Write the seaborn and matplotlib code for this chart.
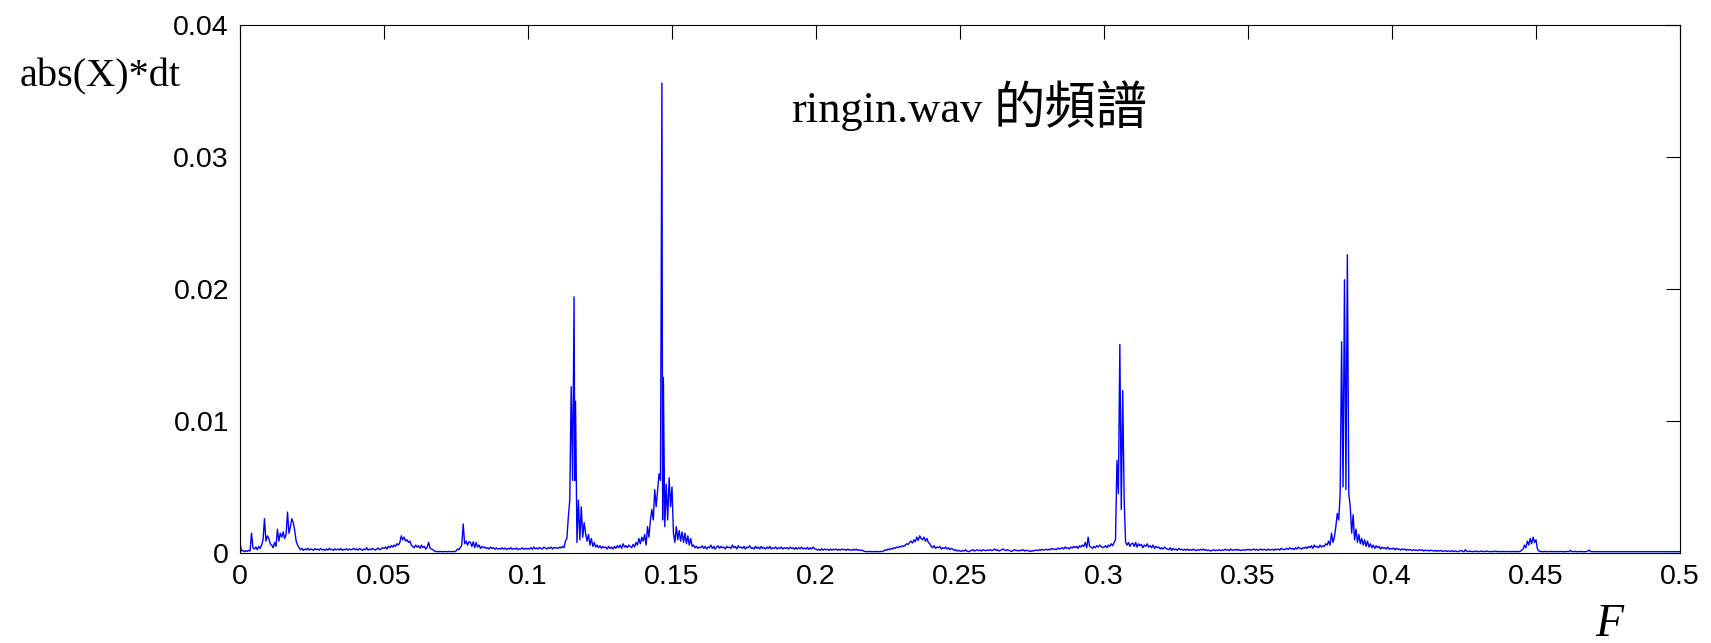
import numpy as np
import pandas as pd
import matplotlib
matplotlib.use("Agg")
import matplotlib.pyplot as plt
import seaborn as sns

# ---------------- data (amplitudes in units of 1e-5, frequency grid step 0.0005) ----------------
freq_step = 0.0005

amp_000_100 = [
    80, 15, 20, 10, 18, 12, 20, 15, 150, 40, 30, 45, 25, 50, 35, 60, 100, 260, 90, 130,
    110, 70, 60, 40, 80, 50, 180, 90, 150, 120, 160, 110, 140, 310, 150, 200, 260, 230, 170, 90,
    60, 40, 25, 35, 20, 30, 25, 35, 22, 30, 28, 20, 33, 25, 30, 22, 35, 24, 28, 20,
    30, 22, 35, 25, 28, 20, 32, 24, 30, 22, 35, 20, 28, 25, 33, 22, 30, 24, 28, 35,
    25, 30, 22, 35, 28, 20, 30, 25, 40, 22, 30, 25, 35, 28, 22, 30, 38, 25, 30, 40,
    35, 45, 30, 50, 40, 55, 45, 60, 50, 70, 60, 80, 130, 100, 120, 90, 100, 80, 90, 60,
    50, 40, 60, 45, 55, 35, 60, 40, 50, 30, 45, 80, 35, 30, 25, 15, 12, 10, 10, 12,
    10, 10, 12, 10, 10, 12, 10, 10, 12, 10, 15, 30, 25, 40, 60, 220, 70, 90, 60, 85,
    80, 50, 85, 40, 80, 45, 60, 35, 50, 40, 45, 35, 40, 30, 45, 35, 40, 28, 38, 30,
    35, 28, 40, 30, 38, 25, 35, 30, 40, 28, 35, 30, 38, 25, 32, 30, 40, 28, 35, 30,
]
amp_100_200 = [
    35, 30, 40, 28, 45, 32, 38, 30, 42, 35, 30, 45, 38, 30, 40, 35, 45, 30, 42, 38,
    40, 35, 45, 38, 50, 40, 90, 110, 270, 400, 1260, 550, 1940, 1150, 80, 400, 100, 350, 120, 230,
    150, 90, 140, 60, 110, 50, 80, 45, 60, 40, 55, 35, 50, 40, 45, 30, 50, 35, 45, 30,
    50, 35, 55, 40, 60, 35, 70, 45, 55, 40, 60, 50, 40, 65, 45, 80, 60, 110, 70, 120,
    90, 140, 60, 200, 120, 250, 330, 250, 480, 350, 480, 600, 550, 3560, 1330, 200, 520, 250, 570, 350,
    500, 150, 80, 200, 100, 170, 90, 160, 80, 150, 70, 130, 60, 110, 50, 60, 40, 50, 35, 45,
    40, 55, 35, 50, 30, 45, 40, 60, 35, 50, 30, 45, 55, 35, 50, 40, 45, 30, 50, 40,
    45, 35, 60, 40, 50, 30, 55, 40, 45, 35, 50, 30, 45, 40, 55, 35, 40, 30, 50, 35,
    45, 30, 50, 35, 40, 30, 45, 35, 50, 30, 40, 35, 45, 30, 40, 35, 45, 30, 40, 35,
    40, 30, 45, 35, 40, 28, 42, 30, 40, 32, 45, 30, 38, 30, 42, 28, 40, 30, 45, 32,
]
amp_200_300 = [
    30, 22, 28, 20, 32, 22, 30, 25, 28, 20, 30, 22, 28, 25, 30, 20, 28, 22, 30, 25,
    28, 20, 30, 22, 25, 20, 28, 22, 30, 20, 25, 18, 22, 15, 12, 10, 10, 12, 10, 10,
    10, 10, 12, 10, 10, 12, 10, 15, 25, 20, 30, 25, 35, 30, 40, 35, 45, 40, 50, 45,
    55, 50, 60, 70, 65, 80, 90, 75, 100, 85, 120, 95, 130, 110, 100, 120, 90, 110, 80, 70,
    50, 40, 55, 35, 45, 40, 50, 30, 40, 35, 45, 30, 40, 25, 35, 30, 20, 25, 15, 20,
    15, 12, 20, 15, 25, 12, 10, 15, 20, 25, 15, 20, 25, 18, 22, 15, 25, 20, 18, 22,
    20, 25, 18, 22, 30, 20, 25, 15, 20, 25, 30, 22, 18, 25, 20, 15, 12, 20, 25, 18,
    20, 15, 22, 18, 25, 15, 20, 18, 15, 12, 18, 15, 20, 22, 18, 25, 20, 28, 22, 25,
    28, 22, 30, 25, 35, 28, 30, 25, 38, 30, 35, 40, 30, 45, 35, 40, 30, 45, 38, 50,
    40, 50, 35, 55, 45, 60, 50, 80, 40, 120, 50, 45, 35, 50, 40, 55, 45, 60, 50, 40,
]
amp_300_400 = [
    45, 55, 40, 60, 50, 70, 55, 80, 100, 700, 450, 1580, 330, 1230, 400, 80, 60, 80, 50, 70,
    75, 50, 80, 45, 70, 55, 65, 40, 60, 50, 70, 45, 55, 40, 60, 35, 50, 40, 45, 30,
    40, 30, 45, 35, 30, 25, 40, 20, 35, 25, 30, 20, 35, 25, 30, 20, 28, 22, 30, 20,
    25, 20, 30, 22, 18, 25, 20, 28, 22, 30, 20, 25, 18, 22, 15, 20, 25, 18, 22, 20,
    25, 18, 22, 20, 28, 22, 25, 18, 30, 20, 25, 22, 28, 20, 25, 18, 22, 25, 20, 28,
    22, 28, 20, 25, 30, 22, 28, 20, 25, 30, 22, 28, 25, 20, 30, 22, 25, 28, 20, 30,
    25, 30, 22, 35, 28, 25, 30, 35, 28, 40, 30, 35, 25, 40, 30, 45, 35, 30, 40, 35,
    45, 35, 50, 40, 55, 35, 60, 45, 50, 40, 60, 45, 55, 50, 70, 60, 90, 60, 150, 80,
    120, 200, 300, 250, 450, 1600, 500, 2070, 480, 2260, 450, 350, 150, 290, 100, 180, 80, 140, 70, 110,
    60, 100, 50, 90, 45, 70, 40, 60, 35, 55, 40, 50, 30, 45, 35, 40, 30, 45, 28, 35,
]
amp_400_500 = [
    30, 38, 25, 35, 28, 30, 22, 32, 25, 30, 20, 28, 22, 25, 18, 25, 20, 22, 18, 25,
    20, 25, 15, 22, 18, 20, 15, 22, 18, 15, 20, 12, 18, 15, 20, 12, 15, 18, 12, 15,
    15, 12, 18, 10, 15, 12, 10, 15, 20, 12, 10, 25, 12, 10, 15, 12, 10, 12, 15, 10,
    12, 10, 15, 12, 10, 12, 15, 10, 12, 10, 12, 10, 15, 10, 12, 10, 10, 12, 10, 12,
    10, 12, 10, 10, 12, 10, 10, 12, 10, 12, 20, 30, 60, 40, 90, 60, 110, 70, 120, 80,
    100, 30, 15, 12, 10, 10, 12, 10, 10, 10, 12, 10, 10, 12, 10, 10, 10, 12, 10, 10,
    10, 10, 12, 10, 20, 10, 10, 12, 10, 10, 10, 12, 10, 10, 10, 10, 15, 22, 10, 10,
    10, 10, 10, 10, 10, 10, 10, 10, 10, 10, 10, 10, 10, 10, 10, 10, 10, 10, 10, 10,
    10, 10, 10, 10, 10, 10, 10, 10, 10, 10, 10, 10, 10, 10, 10, 10, 10, 10, 10, 10,
    10, 10, 10, 10, 10, 10, 10, 10, 10, 10, 10, 10, 10, 10, 10, 10, 10, 10, 10, 10,
    10,
]
# dips between closely spaced spectral lines
extra_freq = [0.11625, 0.14675]
extra_amp = [550, 250]

x_ticks = [0, 0.05, 0.1, 0.15, 0.2, 0.25, 0.3, 0.35, 0.4, 0.45, 0.5]
x_tick_labels = ["0", "0.05", "0.1", "0.15", "0.2", "0.25", "0.3", "0.35", "0.4", "0.45", "0.5"]
y_ticks = [0, 0.01, 0.02, 0.03, 0.04]
y_tick_labels = ["0", "0.01", "0.02", "0.03", "0.04"]

title_latin = "ringin.wav"
title_cjk = "的頻譜"
y_label = "abs(X)*dt"
x_label = "F"

# ---------------- build table ----------------
amp = np.array(amp_000_100 + amp_100_200 + amp_200_300 + amp_300_400 + amp_400_500, dtype=float)
freq = np.arange(len(amp)) * freq_step
f_all = np.concatenate([freq, np.array(extra_freq)])
a_all = np.concatenate([amp, np.array(extra_amp, dtype=float)]) * 1e-5
df = pd.DataFrame({"F": f_all, "A": a_all})

# ---------------- plot ----------------
sns.set_style("white")
plt.rcParams["font.family"] = ["Liberation Sans", "Noto Sans CJK TC", "DejaVu Sans"]
plt.rcParams["text.color"] = "black"

fig = plt.figure(figsize=(17.11, 6.43), dpi=100)
ax = fig.add_axes([240 / 1711, 90 / 643, 1440 / 1711, 528 / 643])

sns.lineplot(data=df, x="F", y="A", color=(0, 0, 1), linewidth=1.0,
             estimator=None, sort=True, ax=ax)

ax.set_xlim(0, 0.5)
ax.set_ylim(0, 0.04)
ax.set_xticks(x_ticks)
ax.set_xticklabels(x_tick_labels)
ax.set_yticks(y_ticks)
ax.set_yticklabels(y_tick_labels)
ax.tick_params(direction="in", length=10, width=0.8, top=True, right=True,
               labelsize=20.5, pad=8, colors="black")
ax.set_xlabel("")
ax.set_ylabel("")
for s in ax.spines.values():
    s.set_visible(True)
    s.set_linewidth(0.8)
    s.set_color("black")

fig.text(100 / 1711, 1 - 77 / 643, y_label, fontsize=29, color="black",
         family=["Liberation Serif"], ha="center", va="center")
fig.text(1609 / 1711, 1 - 636 / 643, x_label, fontsize=33, style="italic", color="black",
         family=["Liberation Serif"], ha="center", va="baseline")
ax.text(0.1913, 0.0335, title_latin, fontsize=32, color="black",
        family=["Liberation Serif"], ha="left", va="center")
ax.text(0.2615, 0.0336, title_cjk, fontsize=37, color="black",
        family=["Noto Sans CJK TC"], ha="left", va="center")

fig.savefig("out.png", dpi=100)
